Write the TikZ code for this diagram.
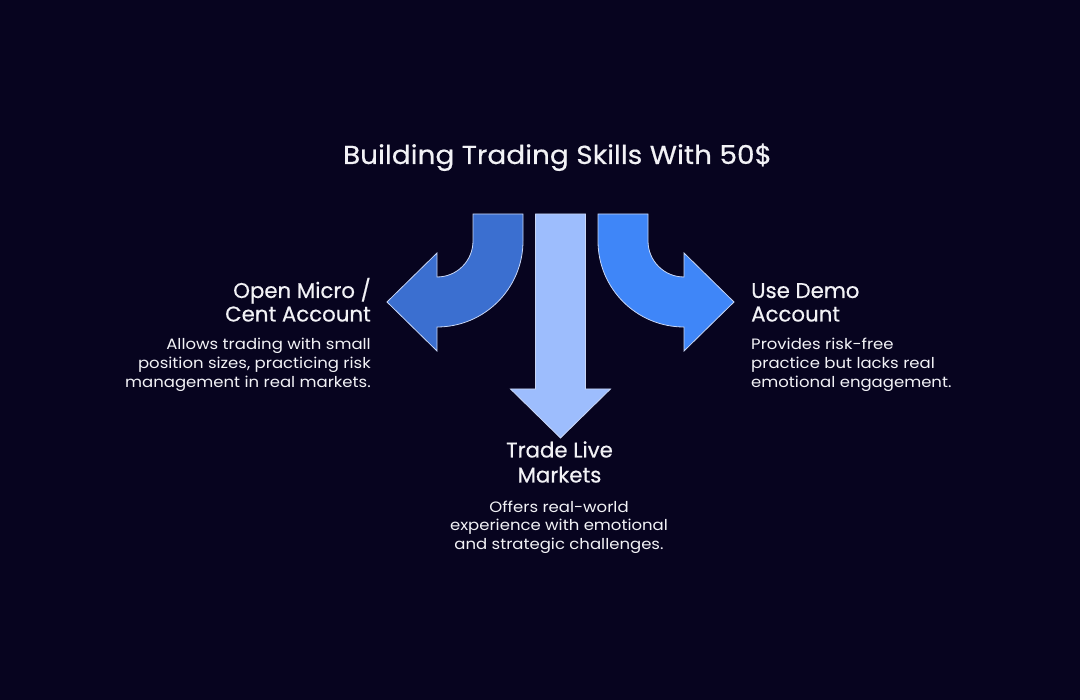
\documentclass[tikz,border=0pt]{standalone}
\usepackage{fontspec}
\setmainfont{Poppins}
\newfontfamily\titlefont[FakeStretch=1.075,FakeBold=0.5]{Poppins}
\newfontfamily\headfont[FakeBold=0.5]{Poppins}
\newfontfamily\bodyfont[FakeStretch=1.1]{Poppins}
\definecolor{bgcol}{HTML}{07041F}
\definecolor{leftcol}{HTML}{3B6FD0}
\definecolor{midcol}{HTML}{9DBDFD}
\definecolor{rightcol}{HTML}{3F86F8}
\definecolor{txtcol}{HTML}{F2F2F6}
\definecolor{edgecol}{HTML}{C8D6F5}
\tikzset{
  arrowshape/.style={draw=edgecol, line width=0.8pt, line join=miter},
  titletext/.style={text=txtcol, font=\titlefont\fontsize{26}{30}\selectfont, inner sep=0pt},
  headtext/.style={text=txtcol, font=\headfont\fontsize{21.3}{25}\selectfont, inner sep=0pt},
  bodytext/.style={text=txtcol, font=\bodyfont\fontsize{15}{19}\selectfont, inner sep=0pt},
}
\begin{document}
\begin{tikzpicture}[x=1pt,y=1pt]
\fill[bgcol] (0,0) rectangle (1080,700);
\useasboundingbox (0,0) rectangle (1080,700);

% left curved arrow
\draw[arrowshape, fill=leftcol] (473,486) -- (523,486) -- (523,459)
  arc[start angle=0, end angle=-90, radius=86] -- (437,349) -- (387,398)
  -- (437,447) -- (437,423) arc[start angle=-90, end angle=0, radius=36] -- cycle;
% right curved arrow
\draw[arrowshape, fill=rightcol] (648,486) -- (598,486) -- (598,459)
  arc[start angle=180, end angle=270, radius=86] -- (684,349) -- (734,398)
  -- (684,447) -- (684,423) arc[start angle=270, end angle=180, radius=36] -- cycle;
% centre arrow
\draw[arrowshape, fill=midcol] (535.5,486) -- (585.5,486) -- (585.5,311)
  -- (610.5,311) -- (560.5,262) -- (510.5,311) -- (535.5,311) -- cycle;

\node[titletext, anchor=base] (title) at (557.5,536) {Building Trading Skills With 50\$};

% left block
\node[headtext, anchor=base east] (lhead1) at (371,402) {Open Micro /};
\node[headtext, anchor=base east] (lhead2) at (371,378.5) {Cent Account};
\node[bodytext, anchor=base east] (lbody1) at (371,350.5) {Allows trading with small};
\node[bodytext, anchor=base east] (lbody2) at (371,331.5) {position sizes, practicing risk};
\node[bodytext, anchor=base east] (lbody3) at (371,312.5) {management in real markets.};

% centre block
\node[headtext, anchor=base] (chead1) at (559.5,242.5) {Trade Live};
\node[headtext, anchor=base] (chead2) at (559.5,217.5) {Markets};
\node[bodytext, anchor=base] (cbody1) at (559,187.5) {Offers real-world};
\node[bodytext, anchor=base] (cbody2) at (559,169) {experience with emotional};
\node[bodytext, anchor=base] (cbody3) at (559,150.5) {and strategic challenges.};

% right block
\node[headtext, anchor=base west] (rhead1) at (751,402) {Use Demo};
\node[headtext, anchor=base west] (rhead2) at (751,378.5) {Account};
\node[bodytext, anchor=base west] (rbody1) at (751,350.5) {Provides risk-free};
\node[bodytext, anchor=base west] (rbody2) at (751,331.5) {practice but lacks real};
\node[bodytext, anchor=base west] (rbody3) at (751,312.5) {emotional engagement.};
\end{tikzpicture}
\end{document}
